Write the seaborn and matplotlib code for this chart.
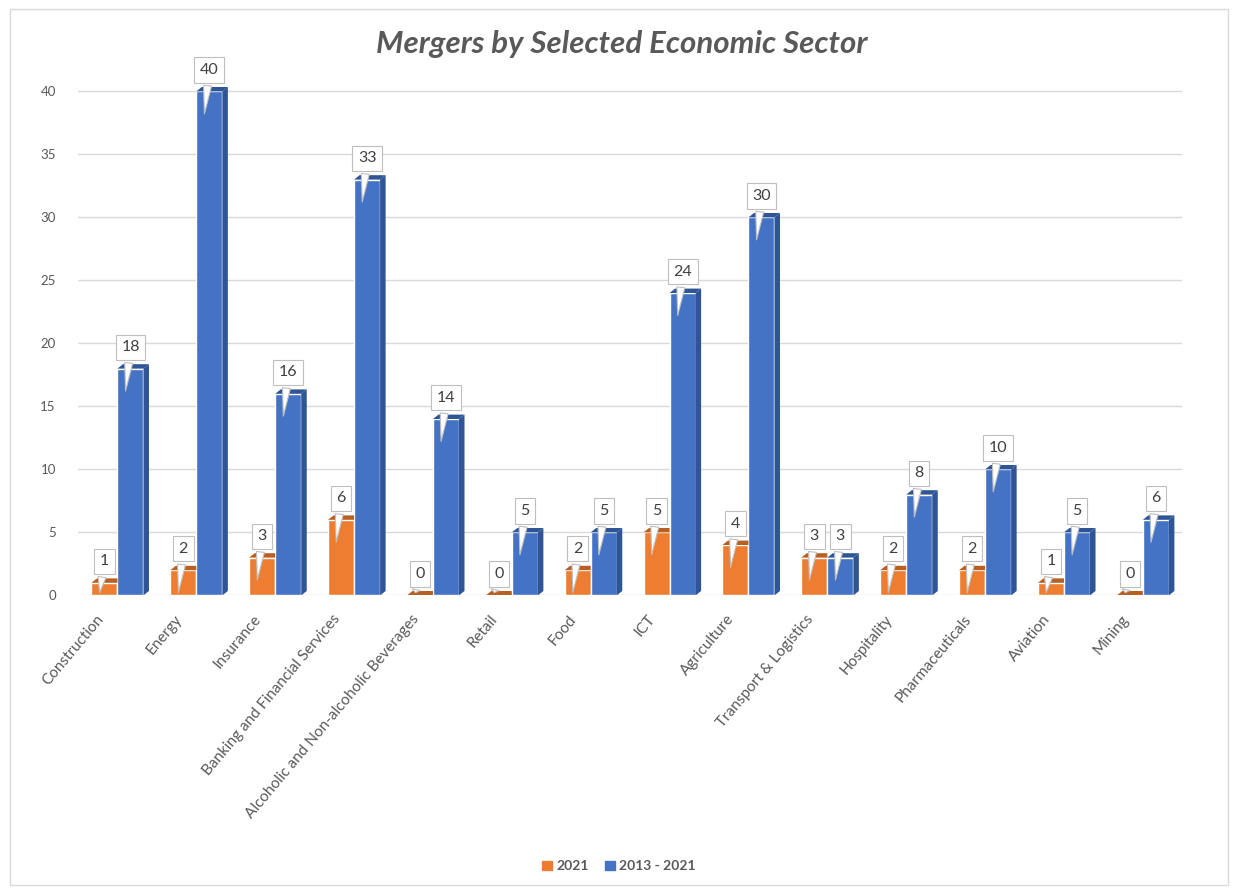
import matplotlib
matplotlib.use("Agg")
import matplotlib.pyplot as plt
import seaborn as sns
import pandas as pd
from matplotlib.patches import Rectangle, Polygon
from matplotlib.transforms import ScaledTranslation

sectors = ["Construction", "Energy", "Insurance", "Banking and Financial Services",
           "Alcoholic and Non-alcoholic Beverages", "Retail", "Food", "ICT",
           "Agriculture", "Transport & Logistics", "Hospitality", "Pharmaceuticals",
           "Aviation", "Mining"]
mergers_2021 = [1, 2, 3, 6, 0, 0, 2, 5, 4, 3, 2, 2, 1, 0]
mergers_2013_2021 = [18, 40, 16, 33, 14, 5, 5, 24, 30, 3, 8, 10, 5, 6]
series_names = ["2021", "2013 - 2021"]
colors = ["#ED7D31", "#4472C4"]
side_colors = ["#B85F22", "#2F5597"]
title = "Mergers by Selected Economic Sector"

df = pd.DataFrame({
    "Sector": sectors * 2,
    "Value": mergers_2021 + mergers_2013_2021,
    "Series": [series_names[0]] * len(sectors) + [series_names[1]] * len(sectors),
})

sns.set_theme(style="white")
plt.rcParams["font.family"] = ["Lato", "DejaVu Sans"]

fig = plt.figure(figsize=(12.38, 8.94), dpi=100)
ax = fig.add_axes([0.063, 0.334, 0.892, 0.599])

sns.barplot(data=df, x="Sector", y="Value", hue="Series", palette=colors,
            width=0.66, saturation=1, ax=ax, legend=False)

ax.set_ylim(0, 42.5)
ax.set_xlim(-0.5, len(sectors) - 0.5)
ax.set_yticks(range(0, 41, 5))
ax.yaxis.grid(True, color="#d9d9d9", linewidth=1)
ax.set_axisbelow(True)
for s in ax.spines.values():
    s.set_visible(False)
ax.set_xlabel("")
ax.set_ylabel("")
ax.tick_params(axis="y", colors="#595959", labelsize=9.5, pad=16, length=0)
ax.tick_params(axis="x", colors="#595959", labelsize=11, length=0, pad=12)
plt.setp(ax.get_xticklabels(), rotation=50, ha="right", rotation_mode="anchor")
offset = ScaledTranslation(-22 / 100, 0, fig.dpi_scale_trans)
for lab in ax.get_xticklabels():
    lab.set_transform(lab.get_transform() + offset)

# 3D-like faces for the bars
depth = 0.07
for bar in ax.containers[1]:
    x_r = bar.get_x() + bar.get_width()
    h = bar.get_height()
    ax.add_patch(Polygon([(x_r, 0), (x_r + depth, 0.35), (x_r + depth, h + 0.35), (x_r, h)],
                         closed=True, fc=side_colors[1], ec="none", zorder=2))
    ax.add_patch(Polygon([(bar.get_x(), h), (bar.get_x() + depth, h + 0.35),
                          (x_r + depth, h + 0.35), (x_r, h)],
                         closed=True, fc=side_colors[1], ec="none", zorder=2))
for bar in ax.containers[0]:
    h = bar.get_height()
    x_l = bar.get_x()
    x_r = x_l + bar.get_width()
    ax.add_patch(Polygon([(x_l, h), (x_l + depth, h + 0.35), (x_r, h + 0.35), (x_r, h)],
                         closed=True, fc=side_colors[0], ec="none", zorder=2))

# data labels with callouts
for cont in ax.containers:
    for bar in cont:
        v = bar.get_height()
        xl = bar.get_x()
        w = bar.get_width()
        xc = xl + w / 2
        ax.annotate(f"{int(round(v))}", xy=(xl + w * 0.3, max(v - 2, 0)),
                    xytext=(xc, v + 1.7), textcoords="data",
                    ha="center", va="center", fontsize=11.5, color="#404040",
                    bbox=dict(boxstyle="square,pad=0.35", fc="white", ec="#bfbfbf", lw=0.8),
                    arrowprops=dict(arrowstyle="wedge,tail_width=0.5,shrink_factor=0.5",
                                    fc="white", ec="#bfbfbf", lw=0.8),
                    zorder=5)

fig.suptitle(title, x=0.502, y=0.967, fontsize=22.5, fontweight="bold",
             fontstyle="italic", color="#595959")

handles = [Rectangle((0, 0), 1, 1, color=c) for c in colors]
fig.legend(handles, series_names, loc="center", bbox_to_anchor=(0.5, 0.031), ncol=2,
           frameon=False, handlelength=0.7, handleheight=0.7, handletextpad=0.3,
           columnspacing=1.2, prop=dict(size=10, weight="bold"), labelcolor="#595959")

fig.add_artist(Rectangle((0.008, 0.01), 0.984, 0.98, transform=fig.transFigure,
                         fill=False, ec="#d9d9d9", lw=1))

fig.savefig("out.png", dpi=100, facecolor="white")
